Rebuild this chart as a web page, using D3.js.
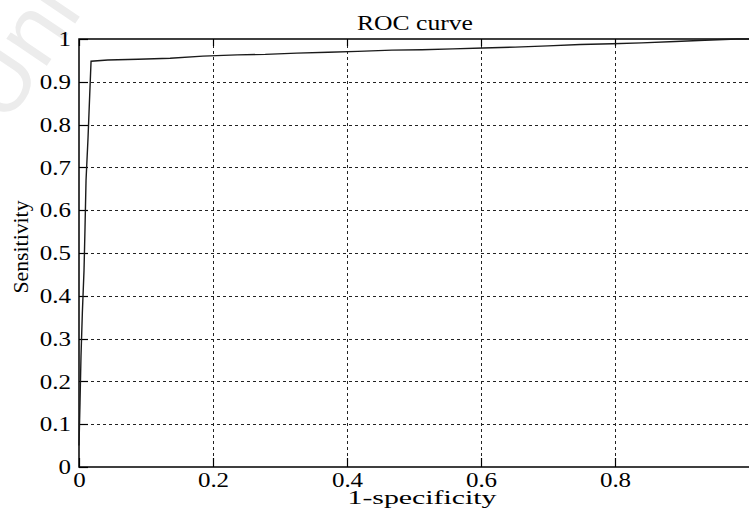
<!DOCTYPE html>
<html>
<head>
<meta charset="utf-8">
<script src="https://cdn.jsdelivr.net/npm/d3@7"></script>
<style>
  html, body { margin: 0; padding: 0; background: #fff; }
  svg { display: block; }
  text { font-family: 'Liberation Serif', 'Times New Roman', Times, serif; fill: #000; }
</style>
</head>
<body>
<svg id="chart" width="749" height="513"></svg>
<script>
// ---- data ----
const fpr = [0, 0.0015, 0.003, 0.005, 0.0075, 0.009, 0.0105, 0.0135, 0.016, 0.018,
  0.043, 0.088, 0.136, 0.185, 0.236, 0.278, 0.325, 0.372, 0.416, 0.467,
  0.512, 0.558, 0.603, 0.651, 0.700, 0.748, 0.796, 0.840, 0.890, 0.934, 0.982, 1.0];
const tpr = [0.05, 0.15, 0.26, 0.36, 0.46, 0.56, 0.67, 0.77, 0.87, 0.948,
  0.951, 0.9526, 0.955, 0.960, 0.963, 0.964, 0.967, 0.969, 0.971, 0.974,
  0.975, 0.977, 0.979, 0.981, 0.984, 0.987, 0.989, 0.991, 0.994, 0.997, 1.0, 1.0];
const xTicks = [0, 0.2, 0.4, 0.6, 0.8];
const xTickLabels = ["0", "0.2", "0.4", "0.6", "0.8"];
const yTicks = [0, 0.1, 0.2, 0.3, 0.4, 0.5, 0.6, 0.7, 0.8, 0.9, 1];
const yTickLabels = ["0", "0.1", "0.2", "0.3", "0.4", "0.5", "0.6", "0.7", "0.8", "0.9", "1"];
const titleText = "ROC curve";
const xLabelText = "1-specificity";
const yLabelText = "Sensitivity";

// ---- layout ----
const L = 79, R = 749, T = 39, B = 467;
const SERIF = "'Liberation Serif', 'Times New Roman', Times, serif";
const svg = d3.select("#chart");

// watermark
svg.append("text")
  .attr("transform", "translate(6,126) rotate(-56)")
  .style("font-family", "'Liberation Sans', Arial, sans-serif")
  .style("font-size", "92px")
  .style("fill", "#ececec")
  .text("Uni");

const x = d3.scaleLinear().domain([0, 1]).range([L, R]);
const y = d3.scaleLinear().domain([0, 1]).range([B, T]);

// grid
const grid = svg.append("g").attr("stroke", "#222").attr("stroke-width", 1)
  .attr("stroke-dasharray", "3,3");
grid.selectAll(".gx").data(xTicks.filter(d => d > 0)).join("line")
  .attr("x1", d => Math.round(x(d)) + 0.5).attr("x2", d => Math.round(x(d)) + 0.5)
  .attr("y1", T).attr("y2", B);
grid.selectAll(".gy").data(yTicks.filter(d => d > 0 && d < 1)).join("line")
  .attr("y1", d => Math.round(y(d)) + 0.5).attr("y2", d => Math.round(y(d)) + 0.5)
  .attr("x1", L).attr("x2", R);

// inward tick marks
const tk = svg.append("g").attr("stroke", "#000").attr("stroke-width", 1.2);
tk.selectAll(".tl").data(yTicks).join("line")
  .attr("x1", L).attr("x2", L + 9)
  .attr("y1", d => Math.round(y(d)) + 0.5).attr("y2", d => Math.round(y(d)) + 0.5);
tk.selectAll(".tb").data(xTicks).join("line")
  .attr("x1", d => Math.round(x(d)) + 0.5).attr("x2", d => Math.round(x(d)) + 0.5)
  .attr("y1", B).attr("y2", B - 9);
tk.selectAll(".tt").data(xTicks).join("line")
  .attr("x1", d => Math.round(x(d)) + 0.5).attr("x2", d => Math.round(x(d)) + 0.5)
  .attr("y1", T).attr("y2", T + 7);

// frame
svg.append("path")
  .attr("d", `M${R},${T}H${L}V${B}H${R}`)
  .attr("fill", "none").attr("stroke", "#000").attr("stroke-width", 1.5);

// axes (labels)
const yAxis = d3.axisLeft(y).tickValues(yTicks).tickSize(0)
  .tickFormat((d, i) => yTickLabels[i]);
const gy = svg.append("g").attr("transform", `translate(${L},0)`).call(yAxis);
gy.select(".domain").remove();
gy.attr("font-family", null);
gy.selectAll("text")
  .attr("x", -8 / 1.25).attr("dy", "0.33em")
  .attr("transform", "scale(1.25,1)")
  .style("font-family", SERIF)
  .style("font-size", "20px").attr("fill", "#000");

const xAxis = d3.axisBottom(x).tickValues(xTicks).tickSize(0)
  .tickFormat((d, i) => xTickLabels[i]);
const gx = svg.append("g").attr("transform", `translate(0,${B})`).call(xAxis);
gx.select(".domain").remove();
gx.attr("font-family", null);
gx.selectAll("text")
  .attr("y", 20).attr("dy", 0)
  .attr("transform", "scale(1.25,1)")
  .style("font-family", SERIF)
  .style("font-size", "20px").attr("fill", "#000");

// curve
const pts = fpr.map((f, i) => [f, tpr[i]]);
svg.append("path")
  .datum(pts)
  .attr("fill", "none").attr("stroke", "#1a1a1a").attr("stroke-width", 1.4)
  .attr("d", d3.line().x(d => x(d[0])).y(d => y(d[1])));

// title and labels
svg.append("text").attr("x", 415).attr("y", 30).attr("text-anchor", "middle")
  .attr("textLength", 116).attr("lengthAdjust", "spacingAndGlyphs")
  .style("font-family", SERIF)
  .style("font-size", "21px").text(titleText);
svg.append("text").attr("x", 422).attr("y", 504).attr("text-anchor", "middle")
  .attr("textLength", 149).attr("lengthAdjust", "spacingAndGlyphs")
  .style("font-family", SERIF)
  .style("font-size", "19px").text(xLabelText);
svg.append("text").attr("transform", "translate(28,247) rotate(-90)")
  .attr("text-anchor", "middle")
  .attr("textLength", 93).attr("lengthAdjust", "spacingAndGlyphs")
  .style("font-family", SERIF)
  .style("font-size", "22px").text(yLabelText);
</script>
</body>
</html>
